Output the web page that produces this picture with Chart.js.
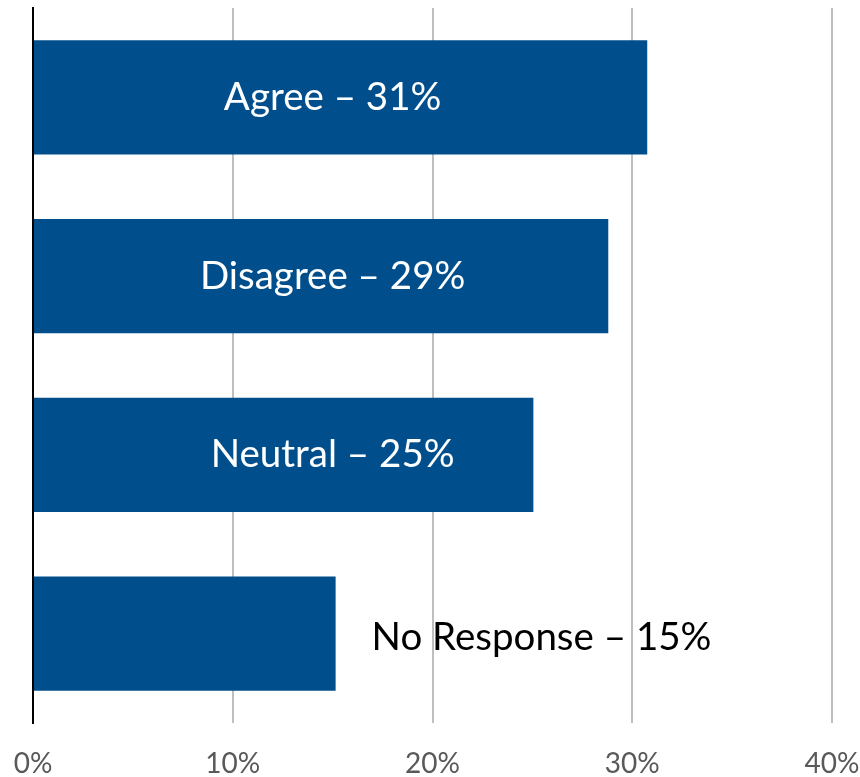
<!DOCTYPE html>
<html>
<head>
<meta charset="utf-8">
<script src="https://cdn.jsdelivr.net/npm/chart.js@4.4.1/dist/chart.umd.min.js"></script>
<style>
html,body{margin:0;padding:0;background:#fff;}
#wrap{width:860px;height:777px;position:relative;}
</style>
</head>
<body>
<div id="wrap"><canvas id="c" width="860" height="777"></canvas></div>
<script>
const categories = ["Agree", "Disagree", "Neutral", "No Response"];
const values = [30.75, 28.8, 25.05, 15.15];
const shownPercents = ["31%", "29%", "25%", "15%"];
const xTicks = [0, 10, 20, 30, 40];

const BAR = "#004F8C";
const LABEL_FONT = "38.5px Lato";

const labelPlugin = {
  id: "barLabels",
  afterDatasetsDraw(chart) {
    const ctx = chart.ctx;
    const meta = chart.getDatasetMeta(0);
    const xs = chart.scales.x;
    ctx.save();
    ctx.font = LABEL_FONT;
    ctx.textBaseline = "middle";
    meta.data.forEach((bar, i) => {
      const text = categories[i] + " \u2013 " + shownPercents[i];
      if (values[i] >= 20) {
        ctx.fillStyle = "#ffffff";
        ctx.textAlign = "center";
        ctx.fillText(text, xs.getPixelForValue(15), bar.y);
      } else {
        ctx.fillStyle = "#000000";
        ctx.textAlign = "left";
        ctx.fillText(text, bar.x + 36, bar.y + 4);
      }
    });
    ctx.restore();
  }
};

new Chart(document.getElementById("c"), {
  type: "bar",
  data: {
    labels: categories,
    datasets: [{
      data: values,
      backgroundColor: BAR,
      borderWidth: 0,
      categoryPercentage: 1,
      barPercentage: 0.638
    }]
  },
  options: {
    indexAxis: "y",
    responsive: false,
    animation: false,
    events: [],
    layout: { padding: { left: 33, right: 28, top: 8, bottom: 0 } },
    plugins: { legend: { display: false }, tooltip: { enabled: false } },
    scales: {
      x: {
        min: 0, max: 40,
        afterBuildTicks(axis) { axis.ticks = xTicks.map(v => ({ value: v })); },
        ticks: {
          callback: v => v + "%",
          color: "#595959",
          font: { family: "Lato", size: 28 },
          padding: 24,
          maxRotation: 0
        },
        grid: { color: "#BFBFBF", lineWidth: 2, drawTicks: false },
        border: { display: false },
        afterFit(axis) {
          axis.height = 777 - 723;
          axis.paddingLeft = 0; axis.paddingRight = 0;
        }
      },
      y: {
        ticks: { display: false },
        grid: { display: false, drawTicks: false },
        border: { display: true, color: "#000000", width: 2 },
        afterFit(axis) { axis.width = 0; axis.paddingTop = 0; axis.paddingBottom = 0; }
      }
    }
  },
  plugins: [labelPlugin]
});
</script>
</body>
</html>
